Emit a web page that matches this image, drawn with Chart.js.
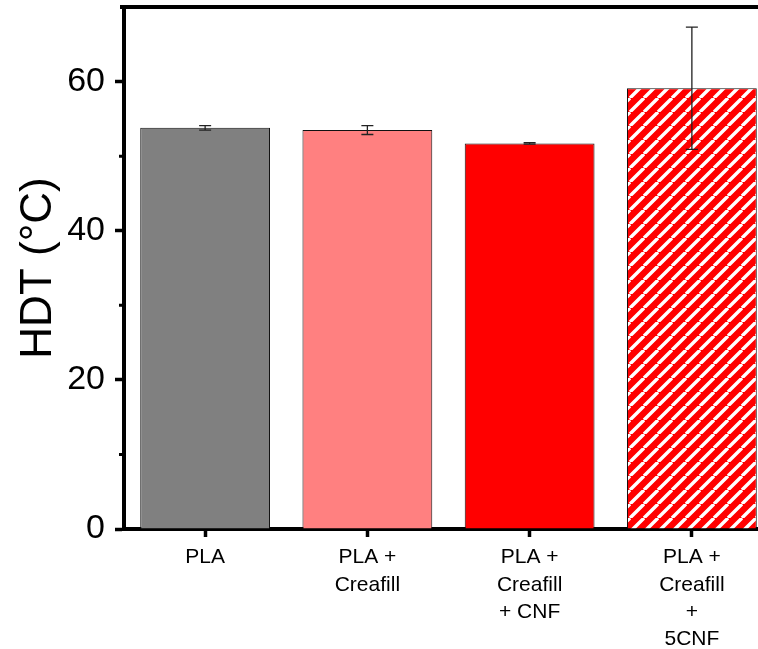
<!DOCTYPE html>
<html>
<head>
<meta charset="utf-8">
<title>HDT</title>
<script src="https://cdn.jsdelivr.net/npm/chart.js@4.4.1/dist/chart.umd.min.js"></script>
<style>
  html, body { margin: 0; padding: 0; background: #fff; overflow: hidden; }
  #wrap { width: 776px; height: 649px; }
</style>
</head>
<body>
<div id="wrap"><canvas id="hdtChart"></canvas></div>
<script>
const samples = [
  ["PLA"],
  ["PLA +", "Creafill"],
  ["PLA +", "Creafill", "+ CNF"],
  ["PLA +", "Creafill", "+", "5CNF"],
];
const hdt = [53.8, 53.5, 51.7, 59.1];
const hdtErr = [0.3, 0.6, 0.1, 8.2];
const yTicks = [0, 20, 40, 60];
const yMinorTicks = [10, 30, 50];

Chart.defaults.font.family = "'Liberation Sans', Arial, sans-serif";
Chart.defaults.color = "#000";

// red fill with white "/" stripes for the last sample
function stripes() {
  const size = 14;
  const c = document.createElement("canvas");
  c.width = size;
  c.height = size;
  const g = c.getContext("2d");
  g.fillStyle = "#ff0000";
  g.fillRect(0, 0, size, size);
  g.strokeStyle = "#fff";
  g.lineWidth = 3.4;
  g.beginPath();
  for (const o of [-size, 0, size]) {
    g.moveTo(o, size);
    g.lineTo(o + size, 0);
  }
  g.stroke();
  return g.createPattern(c, "repeat");
}

const errorBars = {
  id: "errorBars",
  afterDatasetsDraw(chart) {
    const ctx = chart.ctx;
    const y = chart.scales.y;
    const meta = chart.getDatasetMeta(0);
    ctx.save();
    ctx.strokeStyle = "#222";
    ctx.lineWidth = 1.3;
    meta.data.forEach((bar, i) => {
      const top = y.getPixelForValue(hdt[i] + hdtErr[i]);
      const bot = y.getPixelForValue(hdt[i] - hdtErr[i]);
      ctx.beginPath();
      ctx.moveTo(bar.x, top);
      ctx.lineTo(bar.x, bot);
      ctx.moveTo(bar.x - 6, top);
      ctx.lineTo(bar.x + 6, top);
      ctx.moveTo(bar.x - 6, bot);
      ctx.lineTo(bar.x + 6, bot);
      ctx.stroke();
    });
    ctx.restore();
  },
};

// top/right frame and short minor ticks on the y axis
const frame = {
  id: "frame",
  afterDraw(chart) {
    const ctx = chart.ctx;
    const a = chart.chartArea;
    const y = chart.scales.y;
    ctx.save();
    ctx.strokeStyle = "#000";
    ctx.lineWidth = 4;
    ctx.beginPath();
    ctx.moveTo(a.left - 4, a.top);
    ctx.lineTo(a.right + 2, a.top);
    ctx.moveTo(a.right, a.top);
    ctx.lineTo(a.right, a.bottom);
    ctx.stroke();
    ctx.lineWidth = 3;
    ctx.beginPath();
    yMinorTicks.forEach((v) => {
      const py = y.getPixelForValue(v);
      ctx.moveTo(a.left - 5, py);
      ctx.lineTo(a.left, py);
    });
    ctx.stroke();
    ctx.restore();
  },
};

const hdtChart = document.getElementById("hdtChart");

new Chart(hdtChart, {
  type: "bar",
  data: {
    labels: samples,
    datasets: [
      {
        data: hdt,
        backgroundColor: ["#808080", "#ff8080", "#ff0000", stripes()],
        borderColor: "#111",
        borderWidth: 1,
        barPercentage: 0.8,
        categoryPercentage: 1,
      },
    ],
  },
  options: {
    responsive: true,
    maintainAspectRatio: false,
    animation: false,
    events: [],
    layout: {
      padding: { top: 7, right: 3, left: 0, bottom: 0 },
    },
    plugins: {
      legend: { display: false },
      tooltip: { enabled: false },
    },
    scales: {
      x: {
        offset: true,
        grid: {
          offset: false,
          drawOnChartArea: false,
          tickLength: 8,
          tickWidth: 3.5,
          tickColor: "#000",
        },
        border: { color: "#000", width: 4 },
        ticks: {
          padding: 7,
          maxRotation: 0,
          autoSkip: false,
          font: { size: 21, lineHeight: 1.3 },
        },
        afterFit: (scale) => {
          scale.height = 120;
          scale.paddingLeft = 0;
          scale.paddingRight = 0;
        },
      },
      y: {
        min: 0,
        max: 70,
        afterBuildTicks: (scale) => {
          scale.ticks = yTicks.map((v) => ({ value: v }));
        },
        grid: {
          drawOnChartArea: false,
          tickLength: 9,
          tickWidth: 3.5,
          tickColor: "#000",
        },
        border: { color: "#000", width: 4 },
        ticks: {
          padding: 10,
          font: { size: 34 },
        },
        title: {
          display: true,
          text: "HDT (°C)",
          font: { size: 44, weight: "normal" },
          padding: { top: 12, bottom: 0 },
        },
        afterFit: (scale) => {
          scale.width = 124;
          scale.paddingTop = 0;
          scale.paddingBottom = 0;
        },
      },
    },
  },
  plugins: [errorBars, frame],
});
</script>
</body>
</html>
